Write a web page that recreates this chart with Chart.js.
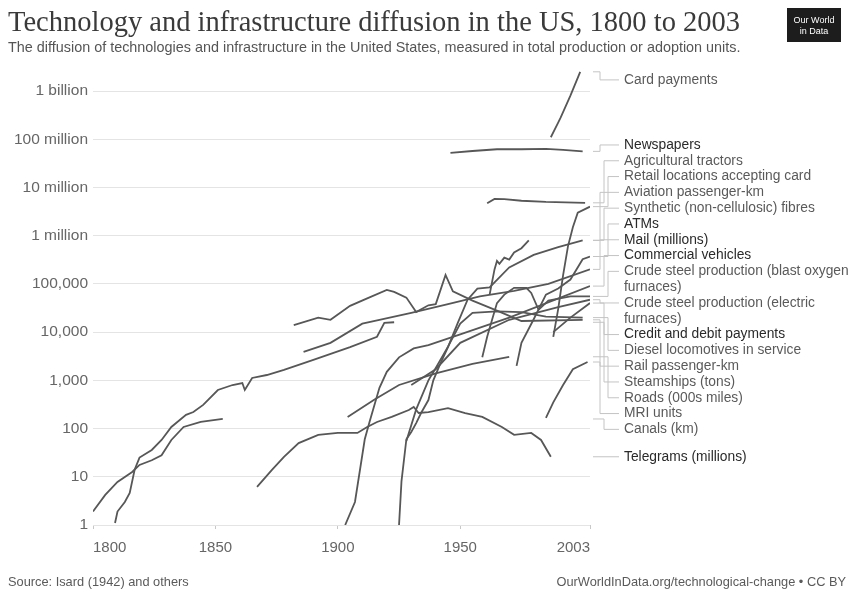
<!DOCTYPE html>
<html>
<head>
<meta charset="utf-8">
<script src="https://cdn.jsdelivr.net/npm/chart.js@4.4.1/dist/chart.umd.min.js"></script>
<style>
  html, body { margin: 0; padding: 0; background: #fff; }
  canvas { display: block; }
</style>
</head>
<body>
<canvas id="chart" width="854" height="592"></canvas>
<script>
// axis ticks
const yTicks = [1, 10, 100, 1e3, 1e4, 1e5, 1e6, 1e7, 1e8, 1e9];
const yTickLabels = ['1', '10', '100', '1,000', '10,000', '100,000', '1 million', '10 million', '100 million', '1 billion'];
const xTicks = [1800, 1850, 1900, 1950, 2003];

// series, [year, value]
const cardPayments = [[1987, 1.1e8], [1990, 2.2e8], [1991, 2.8e8], [1995, 8e8], [1999, 2.5e9]];
const newspapers = [[1946, 5.2e7], [1955, 5.7e7], [1965, 6.2e7], [1975, 6.2e7], [1985, 6.3e7], [1992, 6.0e7], [2000, 5.6e7]];
const tractors = [[1961, 4.7e6], [1964, 5.8e6], [1968, 5.7e6], [1975, 5.3e6], [1985, 5.0e6], [2001, 4.8e6]];
const retailLocations = [[1988, 8000], [1990, 3e4], [1992, 1.5e5], [1994, 6e5], [1996, 1.5e6], [1998, 3e6], [2003, 4e6]];
const aviation = [[1925, 1], [1926, 8], [1928, 60], [1930, 85], [1932, 130], [1934, 210], [1937, 390], [1939, 1000], [1942, 2300], [1945, 4900], [1949, 15500], [1953, 47000], [1957, 80000], [1962, 85000], [1970, 2.2e5], [1980, 4e5], [1990, 5.8e5], [2000, 8e5]];
const syntheticFibres = [[1962, 60000], [1964, 2e5], [1965, 3e5], [1966, 2.6e5], [1968, 3.5e5], [1970, 3.2e5], [1972, 4.5e5], [1975, 5.5e5], [1978, 8e5]];
const atms = [[1973, 2000], [1975, 6000], [1980, 18500], [1985, 60000], [1990, 80000], [1995, 123000], [2000, 324000], [2003, 370000]];
const mail = [[1886, 3900], [1897, 6000], [1910, 15000], [1917, 18000], [1930, 25000], [1945, 38000], [1958, 55000], [1972, 72000], [1986, 100000], [2003, 200000]];
const commercialVehicles = [[1903, 1], [1907, 3], [1911, 60], [1913, 140], [1917, 700], [1920, 1500], [1925, 3000], [1931, 4600], [1937, 5400], [1950, 9000], [1970, 20000], [2003, 90000]];
const steelBof = [[1959, 3000], [1961, 8000], [1963, 18000], [1965, 40000], [1968, 60000], [1972, 83000], [1977, 83000], [1979, 65000], [1982, 29000], [1986, 45000], [1995, 55000], [2003, 55000]];
const steelEaf = [[1930, 800], [1940, 1700], [1950, 6000], [1970, 18000], [1990, 33000], [2003, 47000]];
const creditDebit = [[1988, 10000], [1995, 20000], [2003, 40000]];
const diesel = [[1928, 55], [1932, 250], [1937, 1000], [1940, 1800], [1945, 5000], [1950, 15000], [1955, 25000], [1965, 27000], [1975, 26000], [1985, 21000], [2000, 20000]];
const railPassengerKm = [[1882, 14000], [1892, 20000], [1897, 18000], [1905, 35000], [1912, 50000], [1920, 75000], [1923, 68000], [1928, 52000], [1932, 26000], [1937, 36000], [1940, 38000], [1944, 153000], [1947, 70000], [1955, 45000], [1965, 28000], [1975, 17000], [2000, 18000]];
const steamships = [[1809, 1.1], [1810, 1.9], [1813, 3], [1815, 4.6], [1817, 14], [1819, 25], [1824, 36], [1828, 58], [1832, 108], [1838, 192], [1841, 220], [1845, 310], [1851, 630], [1857, 800], [1861, 880], [1862, 630], [1865, 1120], [1871, 1290], [1878, 1650], [1890, 2660], [1905, 4900], [1916, 8000], [1919, 15500], [1923, 16000]];
const roads = [[1904, 174], [1915, 400], [1925, 800], [1940, 1400], [1955, 2200], [1970, 3080]];
const mriUnits = [[1985, 166], [1988, 350], [1992, 800], [1996, 1700], [2002, 2400]];
const canals = [[1800, 1.9], [1805, 4.2], [1810, 7.8], [1816, 12.6], [1819, 17.6], [1824, 22], [1828, 28], [1832, 58], [1837, 108], [1844, 137], [1853, 158]];
const telegrams = [[1867, 6.2], [1873, 13.8], [1878, 26], [1884, 50], [1892, 74], [1900, 81], [1908, 81], [1912, 108], [1916, 137], [1922, 174], [1929, 242], [1931, 280], [1933, 210], [1937, 220], [1945, 265], [1952, 210], [1959, 174], [1967, 108], [1972, 74], [1979, 81], [1983, 58], [1987, 26]];

const seriesList = [
  ['Card payments', cardPayments],
  ['Newspapers', newspapers],
  ['Agricultural tractors', tractors],
  ['Retail locations accepting card', retailLocations],
  ['Aviation passenger-km', aviation],
  ['Synthetic (non-cellulosic) fibres', syntheticFibres],
  ['ATMs', atms],
  ['Mail (millions)', mail],
  ['Commercial vehicles', commercialVehicles],
  ['Crude steel production (blast oxygen furnaces)', steelBof],
  ['Crude steel production (electric furnaces)', steelEaf],
  ['Credit and debit payments', creditDebit],
  ['Diesel locomotives in service', diesel],
  ['Rail passenger-km', railPassengerKm],
  ['Steamships (tons)', steamships],
  ['Roads (000s miles)', roads],
  ['MRI units', mriUnits],
  ['Canals (km)', canals],
  ['Telegrams (millions)', telegrams]
];

// labels drawn darker in the reference
const darkLabels = ['Newspapers', 'ATMs', 'Mail (millions)', 'Commercial vehicles', 'Credit and debit payments', 'Telegrams (millions)'];

const datasets = seriesList.map(([name, pts]) => ({
  label: name,
  data: pts.map(p => ({ x: p[0], y: p[1] })),
  borderColor: '#575757',
  borderWidth: 1.8,
  pointRadius: 0,
  tension: 0,
  fill: false
}));

function wrapText(ctx, text, maxW) {
  const words = text.split(' ');
  const lines = [];
  let cur = '';
  words.forEach(w => {
    const t = cur ? cur + ' ' + w : w;
    if (ctx.measureText(t).width > maxW && cur) {
      lines.push(cur);
      cur = w;
    } else {
      cur = t;
    }
  });
  if (cur) lines.push(cur);
  return lines;
}

const lineLabels = {
  id: 'lineLabels',
  afterDatasetsDraw(chart) {
    const ctx = chart.ctx;
    const ys = chart.scales.y;
    const area = chart.chartArea;
    const lineH = 15.8;
    const labelX = 624;
    ctx.save();
    ctx.font = '13.8px "Liberation Sans"';
    const items = chart.data.datasets.map(ds => {
      const last = ds.data[ds.data.length - 1];
      const lines = wrapText(ctx, ds.label, 229);
      return { label: ds.label, endY: ys.getPixelForValue(last.y), lines: lines, h: lines.length * lineH };
    }).sort((a, b) => a.endY - b.endY);

    // merge overlapping label blocks
    let blocks = items.map(it => ({ items: [it] }));
    const place = b => {
      let off = 0, sum = 0;
      b.items.forEach(it => { sum += it.endY - lineH / 2 - off; it.off = off; off += it.h; });
      b.h = off;
      b.top = sum / b.items.length;
      b.top = Math.max(area.top + 4, Math.min(b.top, area.bottom - b.h));
    };
    blocks.forEach(place);
    let merged = true;
    while (merged) {
      merged = false;
      for (let i = 0; i < blocks.length - 1; i++) {
        if (blocks[i].top + blocks[i].h > blocks[i + 1].top) {
          blocks[i].items = blocks[i].items.concat(blocks[i + 1].items);
          blocks.splice(i + 1, 1);
          place(blocks[i]);
          merged = true;
          break;
        }
      }
    }

    ctx.textBaseline = 'middle';
    ctx.textAlign = 'left';
    blocks.forEach(b => {
      b.items.forEach((it, k) => {
        const cy = b.top + it.off + lineH / 2;
        const xv = 600 + (k % 3) * 4;
        ctx.strokeStyle = '#c4c4c4';
        ctx.lineWidth = 1;
        ctx.beginPath();
        ctx.moveTo(area.right + 3, it.endY);
        ctx.lineTo(xv, it.endY);
        ctx.lineTo(xv, cy);
        ctx.lineTo(619, cy);
        ctx.stroke();
        ctx.fillStyle = darkLabels.includes(it.label) ? '#2a2a2a' : '#5a5a5a';
        it.lines.forEach((ln, j) => ctx.fillText(ln, labelX, cy + j * lineH));
      });
    });
    ctx.restore();
  }
};

const frame = {
  id: 'frame',
  afterDraw(chart) {
    const ctx = chart.ctx;
    ctx.save();
    ctx.textBaseline = 'alphabetic';
    ctx.textAlign = 'left';
    ctx.fillStyle = '#3a3a3a';
    ctx.font = '28.5px "Liberation Serif"';
    ctx.fillText('Technology and infrastructure diffusion in the US, 1800 to 2003', 8, 31);
    ctx.fillStyle = '#555';
    ctx.font = '14.4px "Liberation Sans"';
    ctx.fillText('The diffusion of technologies and infrastructure in the United States, measured in total production or adoption units.', 8, 52);
    ctx.font = '12.8px "Liberation Sans"';
    ctx.fillStyle = '#5a5a5a';
    ctx.fillText('Source: Isard (1942) and others', 8, 586);
    ctx.textAlign = 'right';
    ctx.fillText('OurWorldInData.org/technological-change \u2022 CC BY', 846, 586);
    // logo
    ctx.fillStyle = '#1d1d1d';
    ctx.fillRect(787, 8, 54, 34);
    ctx.fillStyle = '#ffffff';
    ctx.textAlign = 'center';
    ctx.font = '9px "Liberation Sans"';
    ctx.fillText('Our World', 814, 23);
    ctx.fillText('in Data', 814, 34);
    ctx.restore();
  }
};

new Chart(document.getElementById('chart').getContext('2d'), {
  type: 'line',
  data: { datasets: datasets },
  options: {
    responsive: false,
    animation: false,
    devicePixelRatio: 1,
    layout: { padding: { left: 0, right: 264, top: 68, bottom: 35 } },
    plugins: { legend: { display: false }, tooltip: { enabled: false } },
    scales: {
      x: {
        type: 'linear',
        min: 1800,
        max: 2003,
        afterBuildTicks: s => { s.ticks = xTicks.map(v => ({ value: v })); },
        afterFit: s => { s.height = 32; },
        grid: { drawOnChartArea: false, drawTicks: true, tickLength: 4, color: '#c8c8c8' },
        border: { display: false },
        ticks: { color: '#666', font: { family: 'Liberation Sans', size: 15 }, padding: 10, align: 'inner', maxRotation: 0, callback: v => String(v) }
      },
      y: {
        type: 'logarithmic',
        min: 1,
        max: 3e9,
        afterBuildTicks: s => { s.ticks = yTicks.map(v => ({ value: v })); },
        afterFit: s => { s.width = 93; },
        grid: { color: '#e4e4e4', drawTicks: false },
        border: { display: false },
        ticks: { color: '#666', font: { family: 'Liberation Sans', size: 15.5 }, padding: 5, callback: v => yTickLabels[yTicks.indexOf(v)] }
      }
    }
  },
  plugins: [lineLabels, frame]
});
</script>
</body>
</html>
